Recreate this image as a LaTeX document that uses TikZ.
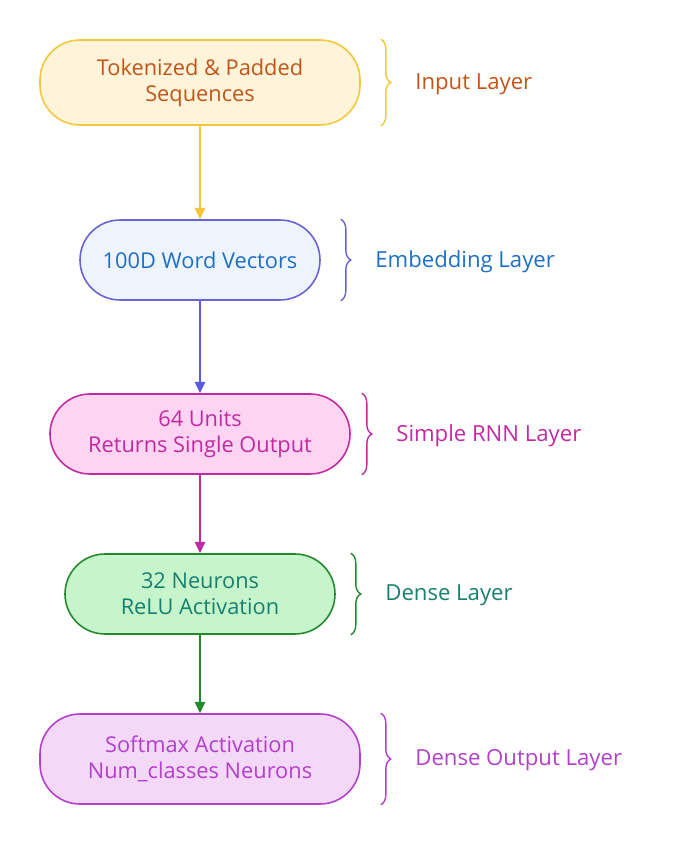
\documentclass[tikz,border=0pt]{standalone}
\usepackage{fontspec}
\setmainfont{Open Sans}
\usepackage{tikz}
\usetikzlibrary{arrows.meta,positioning,decorations.pathreplacing}
\definecolor{goldx}{HTML}{F2C73A}
\definecolor{goldbg}{HTML}{FFF3D9}
\definecolor{rustx}{HTML}{C0561A}
\definecolor{violx}{HTML}{6A62D4}
\definecolor{skybg}{HTML}{EDF4FC}
\definecolor{bluex}{HTML}{1F6FC8}
\definecolor{arrvx}{HTML}{5B5BE6}
\definecolor{magx}{HTML}{C22AA2}
\definecolor{magbg}{HTML}{FDD4F2}
\definecolor{greenx}{HTML}{23892F}
\definecolor{greenbg}{HTML}{C6F5CC}
\definecolor{tealx}{HTML}{17806F}
\definecolor{purpx}{HTML}{B33FCB}
\definecolor{purpbg}{HTML}{F3D8F8}
\tikzset{
  lay/.style={draw,line width=0.9pt,rounded corners=0.8cm,align=center,inner sep=0pt,
    font=\fontsize{12.4}{14.8}\selectfont},
  ar/.style={-{Triangle[length=6.5pt,width=6pt]},line width=0.7pt},
  brc/.style={decorate,decoration={brace,amplitude=0.2cm},line width=0.8pt},
  lbl/.style={anchor=west,font=\fontsize{12.6}{14}\selectfont}
}
\begin{document}
\begin{tikzpicture}
\useasboundingbox (0,0) rectangle (13.6,-16.9);
\node[lay,draw=goldx,fill=goldbg,text=rustx,minimum width=6.4cm,minimum height=1.7cm] (inp) at (4,-1.65) {Tokenized \& Padded\\Sequences};
\node[lay,draw=violx,fill=skybg,text=bluex,minimum width=4.8cm,minimum height=1.6cm] (emb) at (4,-5.2) {100D Word Vectors};
\node[lay,draw=magx,fill=magbg,text=magx,minimum width=6cm,minimum height=1.6cm] (rnn) at (4,-8.68) {64 Units\\Returns Single Output};
\node[lay,draw=greenx,fill=greenbg,text=tealx,minimum width=5.4cm,minimum height=1.6cm] (dns) at (4,-11.88) {32 Neurons\\ReLU Activation};
\node[lay,draw=purpx,fill=purpbg,text=purpx,minimum width=6.4cm,minimum height=1.8cm] (out) at (4,-15.18) {Softmax Activation\\Num\_classes Neurons};
% arrows between layers
\draw[ar,goldx] (inp) -- (emb);
\draw[ar,arrvx] (emb) -- (rnn);
\draw[ar,magx] (rnn) -- (dns);
\draw[ar,greenx] (dns) -- (out);
% braces with layer names
\foreach \n/\dx/\bc/\tc/\t in {inp/0.4/goldx/rustx/Input Layer,emb/0.4/violx/bluex/Embedding Layer,rnn/0.22/magx/magx/Simple RNN Layer,dns/0.3/greenx/tealx/Dense Layer,out/0.4/purpx/purpx/Dense Output Layer}{
  \draw[brc,\bc] ([xshift=\dx cm]\n.north east) -- ([xshift=\dx cm]\n.south east)
    node[lbl,text=\tc,midway,xshift=0.56cm,yshift=-0.03cm] (\n-l) {\t};
}
\end{tikzpicture}
\end{document}
